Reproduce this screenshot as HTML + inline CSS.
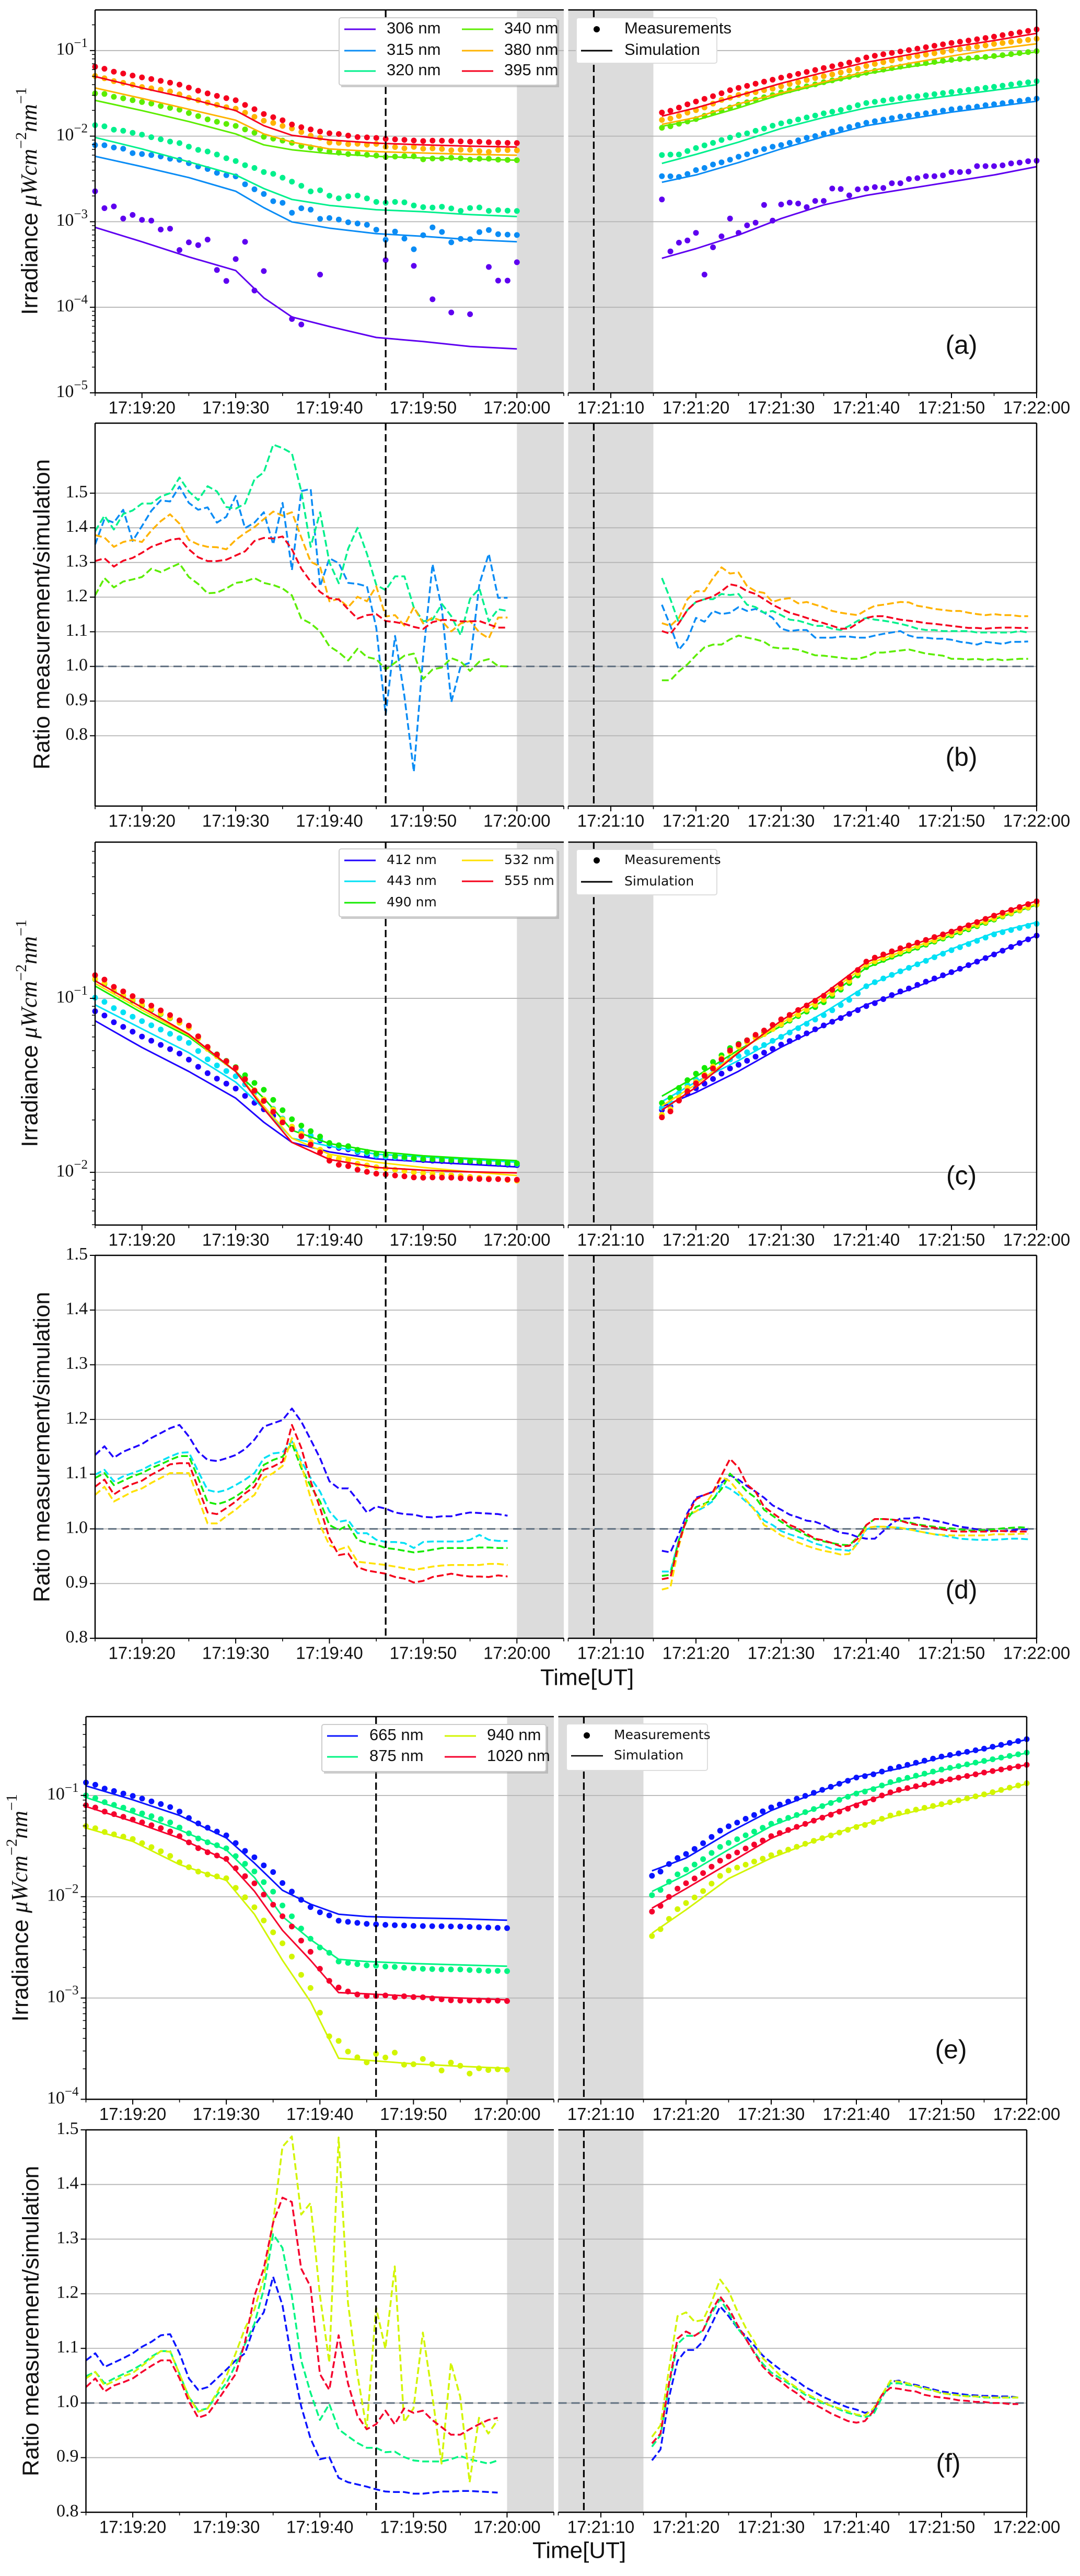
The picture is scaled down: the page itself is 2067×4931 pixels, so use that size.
<!DOCTYPE html>
<html><head><meta charset="utf-8"><title>Irradiance and ratio time series</title>
<style>
html,body{margin:0;padding:0;background:#fff;}
svg{display:block;}
.tk{font-family:"Liberation Sans",sans-serif;font-size:33px;fill:#111;}
.yt{font-family:"Liberation Serif",serif;font-size:34px;fill:#111;}
.lg{font-family:"Liberation Sans",sans-serif;font-size:31px;fill:#111;}
.lg2{font-family:"DejaVu Sans",sans-serif;font-size:25px;fill:#111;}
.yl{font-family:"Liberation Sans",sans-serif;font-size:44px;fill:#111;}
.pl{font-family:"Liberation Sans",sans-serif;font-size:50px;fill:#111;}
</style></head>
<body>
<svg id="chart" xmlns="http://www.w3.org/2000/svg" width="2067" height="4931" viewBox="0 0 2067 4931">
<g id="base"></g>
<g id="over">
  <!-- panel a legends -->
  <g>
    <rect x="653" y="38" width="417" height="129" fill="#999" opacity="0.5"/>
    <rect x="649" y="34" width="417" height="129" rx="4" fill="#fff" stroke="#ccc" stroke-width="2"/>
    <line x1="659" y1="56" x2="719" y2="56" stroke="#5e00f0" stroke-width="3"/>
    <text x="740" y="56" dominant-baseline="middle" class="lg">306 nm</text>
    <line x1="659" y1="97" x2="719" y2="97" stroke="#0a8cf5" stroke-width="3"/>
    <text x="740" y="97" dominant-baseline="middle" class="lg">315 nm</text>
    <line x1="659" y1="136" x2="719" y2="136" stroke="#00f08c" stroke-width="3"/>
    <text x="740" y="136" dominant-baseline="middle" class="lg">320 nm</text>
    <line x1="884" y1="56" x2="944" y2="56" stroke="#5ced00" stroke-width="3"/>
    <text x="965" y="56" dominant-baseline="middle" class="lg">340 nm</text>
    <line x1="884" y1="97" x2="944" y2="97" stroke="#ffb300" stroke-width="3"/>
    <text x="965" y="97" dominant-baseline="middle" class="lg">380 nm</text>
    <line x1="884" y1="136" x2="944" y2="136" stroke="#f5001e" stroke-width="3"/>
    <text x="965" y="136" dominant-baseline="middle" class="lg">395 nm</text>
  </g>
  <g>
    <rect x="1103" y="34" width="269" height="87" rx="4" fill="#fff" stroke="#ddd" stroke-width="2"/>
    <circle cx="1142" cy="56" r="6" fill="#000"/>
    <text x="1195" y="56" dominant-baseline="middle" class="lg">Measurements</text>
    <line x1="1112" y1="97" x2="1172" y2="97" stroke="#000" stroke-width="3"/>
    <text x="1195" y="97" dominant-baseline="middle" class="lg">Simulation</text>
  </g>
  <!-- panel c legends -->
  <g>
    <rect x="653" y="1629" width="417" height="130" fill="#999" opacity="0.5"/>
    <rect x="649" y="1625" width="417" height="130" rx="4" fill="#fff" stroke="#ccc" stroke-width="2"/>
    <line x1="659" y1="1647" x2="719" y2="1647" stroke="#1e00ff" stroke-width="3"/>
    <text x="740" y="1647" dominant-baseline="middle" class="lg2">412 nm</text>
    <line x1="659" y1="1687" x2="719" y2="1687" stroke="#00e1f5" stroke-width="3"/>
    <text x="740" y="1687" dominant-baseline="middle" class="lg2">443 nm</text>
    <line x1="659" y1="1728" x2="719" y2="1728" stroke="#14eb00" stroke-width="3"/>
    <text x="740" y="1728" dominant-baseline="middle" class="lg2">490 nm</text>
    <line x1="884" y1="1647" x2="944" y2="1647" stroke="#ffe100" stroke-width="3"/>
    <text x="965" y="1647" dominant-baseline="middle" class="lg2">532 nm</text>
    <line x1="884" y1="1687" x2="944" y2="1687" stroke="#f50019" stroke-width="3"/>
    <text x="965" y="1687" dominant-baseline="middle" class="lg2">555 nm</text>
  </g>
  <g>
    <rect x="1103" y="1626" width="269" height="87" rx="4" fill="#fff" stroke="#ddd" stroke-width="2"/>
    <circle cx="1142" cy="1647" r="6" fill="#000"/>
    <text x="1195" y="1647" dominant-baseline="middle" class="lg2">Measurements</text>
    <line x1="1112" y1="1688" x2="1172" y2="1688" stroke="#000" stroke-width="3"/>
    <text x="1195" y="1688" dominant-baseline="middle" class="lg2">Simulation</text>
  </g>
  <!-- panel e legends -->
  <g>
    <rect x="620" y="3305" width="429" height="90" fill="#999" opacity="0.5"/>
    <rect x="616" y="3301" width="429" height="90" rx="4" fill="#fff" stroke="#ccc" stroke-width="2"/>
    <line x1="626" y1="3323" x2="685" y2="3323" stroke="#0a14ff" stroke-width="3"/>
    <text x="707" y="3323" dominant-baseline="middle" class="lg">665 nm</text>
    <line x1="626" y1="3363" x2="685" y2="3363" stroke="#00f582" stroke-width="3"/>
    <text x="707" y="3363" dominant-baseline="middle" class="lg">875 nm</text>
    <line x1="851" y1="3323" x2="911" y2="3323" stroke="#d2f500" stroke-width="3"/>
    <text x="932" y="3323" dominant-baseline="middle" class="lg">940 nm</text>
    <line x1="851" y1="3363" x2="911" y2="3363" stroke="#f5002d" stroke-width="3"/>
    <text x="932" y="3363" dominant-baseline="middle" class="lg">1020 nm</text>
  </g>
  <g>
    <rect x="1084" y="3300" width="270" height="89" rx="4" fill="#fff" stroke="#ddd" stroke-width="2"/>
    <circle cx="1123" cy="3322" r="6" fill="#000"/>
    <text x="1175" y="3322" dominant-baseline="middle" class="lg2">Measurements</text>
    <line x1="1093" y1="3361" x2="1154" y2="3361" stroke="#000" stroke-width="2.5"/>
    <text x="1175" y="3361" dominant-baseline="middle" class="lg2">Simulation</text>
  </g>
  <!-- panel letters -->
  <text x="1840" y="664" text-anchor="middle" dominant-baseline="middle" class="pl">(a)</text>
  <text x="1840" y="1453" text-anchor="middle" dominant-baseline="middle" class="pl">(b)</text>
  <text x="1840" y="2254" text-anchor="middle" dominant-baseline="middle" class="pl">(c)</text>
  <text x="1840" y="3047" text-anchor="middle" dominant-baseline="middle" class="pl">(d)</text>
  <text x="1820" y="3927" text-anchor="middle" dominant-baseline="middle" class="pl">(e)</text>
  <text x="1815" y="4719" text-anchor="middle" dominant-baseline="middle" class="pl">(f)</text>
  <!-- x axis titles -->
  <text x="1034" y="3214" dominant-baseline="middle" class="yl">Time[UT]</text>
  <text x="1019" y="4885" dominant-baseline="middle" class="yl">Time[UT]</text>
  <!-- y axis titles -->
  <text transform="translate(60,385) rotate(-90)" text-anchor="middle" dominant-baseline="middle" class="yl">Irradiance <tspan font-family="Liberation Serif, serif" font-style="italic">μWcm</tspan><tspan dy="-17" font-size="30" font-family="Liberation Serif, serif">−2</tspan><tspan dy="17" font-family="Liberation Serif, serif" font-style="italic">nm</tspan><tspan dy="-17" font-size="30" font-family="Liberation Serif, serif">−1</tspan></text>
  <text transform="translate(83,1176) rotate(-90)" text-anchor="middle" dominant-baseline="middle" class="yl">Ratio measurement/simulation</text>
  <text transform="translate(60,1978) rotate(-90)" text-anchor="middle" dominant-baseline="middle" class="yl">Irradiance <tspan font-family="Liberation Serif, serif" font-style="italic">μWcm</tspan><tspan dy="-17" font-size="30" font-family="Liberation Serif, serif">−2</tspan><tspan dy="17" font-family="Liberation Serif, serif" font-style="italic">nm</tspan><tspan dy="-17" font-size="30" font-family="Liberation Serif, serif">−1</tspan></text>
  <text transform="translate(83,2770) rotate(-90)" text-anchor="middle" dominant-baseline="middle" class="yl">Ratio measurement/simulation</text>
  <text transform="translate(42,3652) rotate(-90)" text-anchor="middle" dominant-baseline="middle" class="yl">Irradiance <tspan font-family="Liberation Serif, serif" font-style="italic">μWcm</tspan><tspan dy="-17" font-size="30" font-family="Liberation Serif, serif">−2</tspan><tspan dy="17" font-family="Liberation Serif, serif" font-style="italic">nm</tspan><tspan dy="-17" font-size="30" font-family="Liberation Serif, serif">−1</tspan></text>
  <text transform="translate(62,4443) rotate(-90)" text-anchor="middle" dominant-baseline="middle" class="yl">Ratio measurement/simulation</text>
</g>
</svg>
<script>
// ---------- DATA ----------
const tSimL=[15,20,25,30,33,36,40,45,50,55,60];
const tSimR=[136,140,145,150,155,160,165,170,175,180];
const tSimLe=[15,20,25,30,33,36,39,42,45,50,55,60];
const tStartL=15, tEndL=60, tStartR=136, tEndR=180;
const tickLabelsL=["17:19:20","17:19:30","17:19:40","17:19:50","17:20:00"];
const tickLabelsR=["17:21:10","17:21:20","17:21:30","17:21:40","17:21:50","17:22:00"];
const ratioTicks=[0.8,0.9,1.0,1.1,1.2,1.3,1.4,1.5];
const ratioTickLabels=["0.8","0.9","1.0","1.1","1.2","1.3","1.4","1.5"];

const a395L=[0.0497,0.0366,0.0276,0.0199,0.01324,0.01023,0.00903,0.00828,0.00791,0.00763,0.00747];
const a380L=[0.0366,0.0276,0.0206,0.01535,0.01062,0.00851,0.00709,0.00659,0.00635,0.00612,0.00599];
const a340L=[0.0262,0.0199,0.0148,0.01062,0.00791,0.00693,0.00625,0.00581,0.00556,0.0054,0.00524];
const a320L=[0.00966,0.00709,0.00501,0.00352,0.00244,0.00182,0.00155,0.00138,0.00131,0.00121,0.00115];
const a315L=[0.00581,0.0044,0.00328,0.00227,0.00146,0.000995,0.000841,0.000726,0.000675,0.000618,0.000583];
const a306L=[0.000859,0.000583,0.000388,0.000269,0.000129,0.000077,0.0000596,0.0000444,0.0000398,0.0000348,0.0000326];
const a395R=[0.01714,0.02138,0.02974,0.0414,0.05556,0.0729,0.0895,0.11,0.131,0.159];
const a380R=[0.01374,0.01652,0.02384,0.032,0.0429,0.0568,0.0708,0.0863,0.1038,0.12];
const a340R=[0.01305,0.01535,0.02138,0.0308,0.0414,0.0536,0.0643,0.0762,0.0845,0.0964];
const a320R=[0.0048,0.00612,0.00851,0.0123,0.01652,0.02138,0.02565,0.02974,0.0344,0.0399];
const a315R=[0.00289,0.00352,0.00491,0.0071,0.00987,0.01324,0.0159,0.0191,0.0221,0.0256];
const a306R=[0.000374,0.000484,0.0007,0.00109,0.00157,0.00203,0.00244,0.00293,0.00352,0.0044];
const m306L=[2.27e-3,1.44e-3,1.51e-3,1.09e-3,1.2e-3,1.05e-3,1.03e-3,8.1e-4,8.3e-4,4.67e-4,5.74e-4,5.33e-4,6.18e-4,2.73e-4,2.03e-4,3.66e-4,5.82e-4,1.57e-4,2.65e-4,null,null,7.3e-5,6.3e-5,null,2.41e-4,null,null,null,null,null,null,3.56e-4,null,null,3.05e-4,null,1.24e-4,null,8.7e-5,null,8.3e-5,null,2.96e-4,2.05e-4,2.05e-4,3.36e-4];
const m306R=[1.82e-3,4.5e-4,5.69e-4,6.04e-4,7.41e-4,2.41e-4,5.02e-4,6.75e-4,1.09e-3,7.41e-4,9.06e-4,9.74e-4,1.57e-3,1.03e-3,1.59e-3,1.67e-3,1.63e-3,1.48e-3,1.75e-3,1.75e-3,2.44e-3,2.41e-3,2.03e-3,2.39e-3,2.44e-3,2.54e-3,2.48e-3,2.82e-3,2.82e-3,3.16e-3,3.23e-3,3.4e-3,3.4e-3,3.48e-3,3.8e-3,3.8e-3,3.85e-3,4.46e-3,4.46e-3,4.46e-3,4.56e-3,4.8e-3,4.91e-3,5.09e-3,5.16e-3];

const b315L=[1.352,1.425,1.415,1.452,1.362,1.405,1.449,1.479,1.476,1.519,1.472,1.452,1.459,1.415,1.432,1.492,1.399,1.415,1.445,1.352,1.472,1.278,1.506,1.512,1.231,1.312,1.298,1.241,1.238,1.231,1.111,0.86,1.088,0.914,0.696,1.031,1.295,1.165,0.897,1.001,1.011,1.238,1.325,1.198,1.198];
const b320L=[1.39,1.435,1.395,1.44,1.45,1.47,1.47,1.49,1.5,1.545,1.505,1.48,1.52,1.505,1.46,1.455,1.47,1.54,1.56,1.64,1.63,1.615,1.505,1.345,1.445,1.3,1.24,1.34,1.4,1.325,1.235,1.22,1.26,1.26,1.17,1.13,1.135,1.18,1.145,1.09,1.195,1.225,1.13,1.165,1.16];
const b340L=[1.205,1.255,1.228,1.245,1.251,1.258,1.282,1.272,1.285,1.297,1.258,1.238,1.211,1.213,1.225,1.241,1.245,1.255,1.241,1.235,1.225,1.205,1.138,1.124,1.101,1.058,1.041,1.017,1.051,1.027,1.021,0.991,1.011,1.031,1.037,0.964,0.991,0.997,1.024,1.014,0.987,1.014,1.021,1.001,1.0];
const b380L=[1.379,1.372,1.345,1.359,1.365,1.359,1.392,1.419,1.439,1.412,1.365,1.352,1.345,1.344,1.338,1.365,1.385,1.402,1.425,1.447,1.435,1.445,1.372,1.302,1.288,1.188,1.195,1.171,1.201,1.188,1.231,1.144,1.148,1.118,1.171,1.124,1.141,1.131,1.101,1.124,1.131,1.098,1.081,1.141,1.141];
const b395L=[1.304,1.312,1.288,1.305,1.313,1.328,1.345,1.355,1.365,1.369,1.338,1.315,1.304,1.304,1.308,1.32,1.332,1.362,1.371,1.369,1.375,1.338,1.282,1.245,1.215,1.197,1.193,1.165,1.138,1.148,1.151,1.131,1.128,1.123,1.114,1.108,1.128,1.134,1.134,1.13,1.13,1.131,1.121,1.112,1.112];
const b315R=[1.178,1.117,1.048,1.078,1.14,1.129,1.16,1.151,1.155,1.171,1.16,1.166,1.155,1.14,1.109,1.102,1.105,1.105,1.083,1.083,1.083,1.086,1.086,1.083,1.083,1.089,1.094,1.098,1.102,1.089,1.083,1.083,1.08,1.08,1.077,1.071,1.068,1.063,1.071,1.068,1.065,1.071,1.071,1.072];
const b320R=[1.255,1.194,1.125,1.163,1.186,1.194,1.194,1.209,1.206,1.209,1.178,1.171,1.155,1.16,1.148,1.135,1.132,1.125,1.117,1.117,1.109,1.105,1.117,1.132,1.14,1.135,1.132,1.128,1.123,1.117,1.109,1.105,1.105,1.102,1.102,1.102,1.102,1.098,1.098,1.098,1.098,1.098,1.102,1.098];
const b340R=[0.96,0.96,0.986,1.006,1.032,1.055,1.063,1.063,1.078,1.089,1.083,1.078,1.071,1.055,1.052,1.052,1.048,1.04,1.032,1.031,1.028,1.025,1.022,1.022,1.028,1.04,1.04,1.043,1.046,1.049,1.043,1.037,1.034,1.031,1.022,1.022,1.02,1.022,1.018,1.022,1.018,1.02,1.022,1.022];
const b380R=[1.125,1.117,1.14,1.194,1.217,1.217,1.255,1.286,1.268,1.271,1.232,1.217,1.212,1.186,1.194,1.197,1.182,1.186,1.178,1.171,1.16,1.155,1.151,1.148,1.163,1.175,1.178,1.182,1.186,1.185,1.175,1.171,1.166,1.163,1.16,1.16,1.155,1.151,1.148,1.151,1.148,1.148,1.145,1.145];
const b395R=[1.102,1.094,1.125,1.163,1.186,1.194,1.202,1.217,1.237,1.232,1.217,1.209,1.194,1.178,1.166,1.155,1.148,1.14,1.132,1.125,1.117,1.109,1.109,1.125,1.14,1.145,1.145,1.14,1.135,1.132,1.129,1.125,1.123,1.12,1.117,1.114,1.111,1.111,1.109,1.111,1.112,1.112,1.111,1.111];

const c412L=[0.0743,0.0522,0.038,0.0267,0.0194,0.01486,0.0131,0.01194,0.01151,0.01111,0.01074];
const c443L=[0.0918,0.0668,0.0487,0.033,0.0232,0.01571,0.01413,0.01271,0.01227,0.01186,0.01143];
const c490L=[0.1178,0.0826,0.0601,0.038,0.0267,0.01746,0.01465,0.01318,0.01245,0.01202,0.01167];
const c532L=[0.1219,0.0857,0.0614,0.038,0.024,0.01571,0.01271,0.01143,0.01067,0.01007,0.00959];
const c555L=[0.1262,0.0887,0.0622,0.038,0.0232,0.01486,0.01186,0.01067,0.01029,0.01007,0.00993];
const c412R=[0.0238,0.0288,0.0381,0.0524,0.0694,0.0919,0.1119,0.1403,0.1795,0.2296];
const c443R=[0.0255,0.0331,0.0439,0.0603,0.0827,0.1175,0.15,0.192,0.238,0.2735];
const c490R=[0.0274,0.0355,0.0505,0.0694,0.0972,0.15,0.186,0.2296,0.2838,0.345];
const c532R=[0.0241,0.032,0.0494,0.0718,0.1021,0.156,0.192,0.236,0.29,0.35];
const c555R=[0.0228,0.0308,0.0488,0.0744,0.1057,0.1614,0.1995,0.2428,0.3,0.363];

const d412L=[1.135,1.151,1.13,1.141,1.148,1.155,1.166,1.175,1.184,1.19,1.169,1.141,1.126,1.124,1.129,1.135,1.146,1.163,1.187,1.193,1.199,1.22,1.196,1.163,1.129,1.087,1.074,1.074,1.053,1.03,1.041,1.037,1.03,1.027,1.026,1.022,1.021,1.023,1.023,1.027,1.03,1.029,1.028,1.027,1.024];
const d443L=[1.099,1.108,1.087,1.096,1.102,1.108,1.117,1.124,1.132,1.139,1.14,1.105,1.071,1.067,1.071,1.08,1.09,1.102,1.129,1.138,1.14,1.16,1.124,1.093,1.068,1.032,1.013,1.016,0.992,0.992,0.98,0.976,0.976,0.974,0.965,0.976,0.977,0.977,0.977,0.977,0.98,0.989,0.98,0.978,0.978];
const d490L=[1.093,1.102,1.08,1.088,1.096,1.102,1.111,1.118,1.126,1.133,1.133,1.093,1.049,1.045,1.05,1.059,1.071,1.087,1.117,1.126,1.132,1.156,1.111,1.078,1.05,1.007,0.998,1.007,0.98,0.974,0.971,0.965,0.963,0.96,0.957,0.959,0.962,0.965,0.965,0.965,0.965,0.966,0.966,0.965,0.965];
const d532L=[1.062,1.077,1.05,1.059,1.068,1.074,1.084,1.093,1.102,1.102,1.102,1.056,1.01,1.01,1.023,1.035,1.05,1.062,1.093,1.102,1.115,1.166,1.117,1.056,1.007,0.97,0.962,0.968,0.94,0.938,0.936,0.934,0.931,0.928,0.925,0.928,0.931,0.933,0.934,0.934,0.934,0.934,0.936,0.936,0.934];
const d555L=[1.077,1.09,1.063,1.074,1.082,1.088,1.099,1.108,1.118,1.12,1.12,1.074,1.03,1.027,1.038,1.05,1.065,1.077,1.108,1.114,1.123,1.19,1.148,1.087,1.038,0.983,0.952,0.955,0.93,0.924,0.921,0.918,0.912,0.909,0.902,0.905,0.912,0.915,0.918,0.915,0.913,0.913,0.912,0.915,0.913];
const d412R=[0.96,0.957,0.991,1.029,1.057,1.062,1.068,1.084,1.098,1.09,1.078,1.068,1.057,1.043,1.035,1.026,1.021,1.015,1.013,1.007,0.999,0.993,0.991,0.985,0.982,0.982,0.996,1.01,1.019,1.019,1.021,1.018,1.015,1.012,1.008,1.004,1.002,0.999,0.997,0.996,0.996,0.997,0.999,0.999];
const d443R=[0.922,0.922,0.98,1.024,1.032,1.04,1.051,1.081,1.073,1.062,1.048,1.035,1.015,1.007,0.996,0.99,0.985,0.98,0.973,0.969,0.963,0.962,0.96,0.974,0.999,1.004,1.004,1.003,1.002,0.999,0.996,0.993,0.99,0.988,0.985,0.982,0.981,0.98,0.98,0.98,0.981,0.982,0.982,0.981];
const d490R=[0.914,0.916,0.98,1.018,1.04,1.046,1.054,1.073,1.101,1.085,1.068,1.057,1.035,1.024,1.013,1.003,0.996,0.988,0.981,0.977,0.974,0.971,0.97,0.985,1.007,1.018,1.018,1.017,1.015,1.012,1.008,1.006,1.004,1.002,1.001,0.999,0.997,0.997,0.998,0.999,1.001,1.002,1.003,1.002];
const d532R=[0.889,0.893,0.969,1.026,1.032,1.043,1.065,1.095,1.087,1.068,1.051,1.032,1.007,0.999,0.988,0.982,0.975,0.969,0.964,0.96,0.957,0.953,0.954,0.974,1.002,1.004,1.004,1.003,1.002,0.999,0.996,0.993,0.99,0.989,0.988,0.988,0.988,0.988,0.988,0.99,0.99,0.99,0.991,0.991];
const d555R=[0.908,0.911,0.974,1.024,1.054,1.062,1.068,1.098,1.128,1.112,1.081,1.068,1.04,1.029,1.018,1.007,1.001,0.991,0.982,0.979,0.974,0.968,0.969,0.982,1.007,1.018,1.018,1.017,1.015,1.01,1.007,1.004,1.002,0.999,0.996,0.995,0.995,0.995,0.995,0.996,0.996,0.995,0.995,0.995];

const e665L=[0.1245,0.0906,0.0635,0.038,0.0215,0.01158,0.00845,0.00672,0.00638,0.00618,0.00605,0.00586];
const e875L=[0.0955,0.067,0.0458,0.029,0.0155,0.00638,0.00378,0.00241,0.00229,0.00219,0.00212,0.00206];
const e940L=[0.0477,0.0352,0.0208,0.0145,0.00672,0.00236,0.00092,0.000254,0.000243,0.000224,0.000212,0.000202];
const e1020L=[0.0778,0.0553,0.0379,0.023,0.01134,0.00466,0.00236,0.00113,0.0011,0.00104,0.001,0.00096];
const e665R=[0.018,0.0241,0.0428,0.071,0.104,0.152,0.184,0.237,0.286,0.356];
const e875R=[0.01127,0.01652,0.0292,0.0498,0.0728,0.1066,0.1374,0.177,0.217,0.262];
const e940R=[0.00436,0.00743,0.0151,0.0241,0.0353,0.0498,0.0641,0.0805,0.1014,0.1306];
const e1020R=[0.0077,0.01202,0.0213,0.0377,0.0565,0.0826,0.1107,0.1374,0.168,0.201];

const f665L=[1.078,1.091,1.066,1.074,1.082,1.091,1.103,1.112,1.124,1.126,1.091,1.045,1.024,1.029,1.045,1.061,1.078,1.091,1.141,1.166,1.231,1.179,1.078,0.994,0.935,0.897,0.901,0.863,0.855,0.851,0.847,0.842,0.838,0.837,0.837,0.834,0.834,0.836,0.838,0.838,0.839,0.839,0.838,0.837,0.836];
const f875L=[1.049,1.057,1.036,1.045,1.053,1.061,1.071,1.085,1.095,1.095,1.053,1.011,0.986,0.99,1.015,1.036,1.07,1.108,1.145,1.208,1.309,1.284,1.196,1.078,1.019,0.969,0.998,0.952,0.939,0.927,0.918,0.918,0.91,0.911,0.901,0.895,0.893,0.893,0.893,0.897,0.903,0.897,0.893,0.889,0.895];
const f940L=[1.045,1.057,1.032,1.04,1.049,1.055,1.068,1.082,1.095,1.094,1.053,1.011,0.984,0.99,1.019,1.049,1.091,1.137,1.171,1.229,1.33,1.469,1.488,1.345,1.366,1.197,1.074,1.486,1.183,1.053,0.952,1.175,1.099,1.25,0.965,0.99,1.129,1.015,0.889,1.074,1.011,0.855,0.973,0.944,0.969];
const f1020L=[1.029,1.045,1.021,1.032,1.038,1.045,1.057,1.068,1.078,1.078,1.045,1.003,0.973,0.979,1.003,1.028,1.053,1.112,1.196,1.246,1.33,1.376,1.368,1.246,1.213,1.053,1.024,1.124,1.036,0.977,0.952,0.961,0.986,0.961,0.99,0.982,0.986,0.969,0.956,0.942,0.942,0.952,0.961,0.969,0.973];
const f665R=[0.895,0.915,1.01,1.077,1.097,1.097,1.113,1.144,1.177,1.159,1.138,1.123,1.105,1.087,1.074,1.062,1.051,1.041,1.029,1.021,1.012,1.005,0.998,0.992,0.988,0.982,0.985,1.01,1.039,1.041,1.036,1.033,1.029,1.025,1.021,1.019,1.017,1.015,1.014,1.013,1.013,1.012,1.012,1.01];
const f875R=[0.92,0.941,1.031,1.108,1.123,1.123,1.133,1.164,1.19,1.166,1.138,1.118,1.094,1.072,1.056,1.046,1.036,1.026,1.015,1.008,1.0,0.995,0.988,0.982,0.978,0.974,0.979,1.01,1.036,1.036,1.033,1.031,1.026,1.023,1.018,1.016,1.014,1.013,1.012,1.01,1.01,1.01,1.01,1.01];
const f940R=[0.938,0.959,1.062,1.159,1.166,1.149,1.152,1.185,1.226,1.205,1.169,1.138,1.113,1.082,1.067,1.051,1.039,1.028,1.018,1.01,1.002,0.995,0.99,0.985,0.979,0.977,0.99,1.015,1.041,1.039,1.036,1.031,1.027,1.023,1.018,1.016,1.014,1.012,1.012,1.011,1.01,1.01,1.01,1.01];
const f1020R=[0.926,0.944,1.036,1.118,1.131,1.123,1.133,1.169,1.195,1.174,1.144,1.118,1.092,1.067,1.051,1.041,1.028,1.018,1.005,0.998,0.99,0.981,0.974,0.967,0.964,0.967,0.985,1.015,1.028,1.026,1.023,1.021,1.015,1.012,1.01,1.008,1.005,1.004,1.002,1.002,1.0,1.0,0.998,0.998];

// ---------- RENDERING ----------
const NS='http://www.w3.org/2000/svg';
const base=document.getElementById('base');
const AXAB={L:{x0:182,x1:1079,t0:15,t1:65},R:{x0:1087.5,x1:1984,t0:125,t1:180}};
const AXEF={L:{x0:164.5,x1:1060,t0:15,t1:65},R:{x0:1068.5,x1:1965,t0:125,t1:180}};
const P={
 a:{top:19,bot:752,log:true,vTop:-0.525,vBot:-5,ax:AXAB},
 b:{top:810,bot:1543,log:false,vTop:1.702,vBot:0.597,ax:AXAB},
 c:{top:1612,bot:2345,log:true,vTop:-0.102,vBot:-2.303,ax:AXAB},
 d:{top:2403,bot:3136,log:false,vTop:1.5,vBot:0.8,ax:AXAB},
 e:{top:3286,bot:4018.5,log:true,vTop:-0.222,vBot:-4,ax:AXEF},
 f:{top:4077,bot:4809,log:false,vTop:1.5,vBot:0.8,ax:AXEF}
};
function xOf(ax,t){return ax.x0+(t-ax.t0)*(ax.x1-ax.x0)/(ax.t1-ax.t0);}
function yOf(p,v){const u=p.log?Math.log10(v):v;return p.top+(p.vTop-u)*(p.bot-p.top)/(p.vTop-p.vBot);}
function mk(tag,parent,name){
  const e=document.createElementNS(NS,tag);
  
  
  parent.appendChild(e);return e;
}
function ln(g,x1,y1,x2,y2,stroke,w,dash,name){
  const e=mk('line',g,name);
  e.setAttribute('x1',x1);e.setAttribute('y1',y1);e.setAttribute('x2',x2);e.setAttribute('y2',y2);
  e.setAttribute('stroke',stroke);e.setAttribute('stroke-width',w);
  if(dash)e.setAttribute('stroke-dasharray',dash);
  return e;
}
function txt(g,x,y,s,cls,anchor,name){
  const e=mk('text',g,name);
  e.setAttribute('x',x);e.setAttribute('y',y);e.setAttribute('class',cls);
  e.setAttribute('text-anchor',anchor);e.setAttribute('dominant-baseline','middle');
  e.textContent=s;return e;
}
function simAt(ts,vs,t){
  if(t<=ts[0])return vs[0];
  for(let i=1;i<ts.length;i++){if(t<=ts[i]){const f=(t-ts[i-1])/(ts[i]-ts[i-1]);return Math.pow(10,Math.log10(vs[i-1])+f*(Math.log10(vs[i])-Math.log10(vs[i-1])));}}
  return vs[vs.length-1];
}
function polyline(g,p,ax,ts,vs,color,w,dash,name){
  let d='',pen=false;
  for(let i=0;i<vs.length;i++){
    if(vs[i]===null||vs[i]===undefined){pen=false;continue;}
    const x=xOf(ax,ts[i]).toFixed(1),y=yOf(p,vs[i]).toFixed(1);
    d+=(pen?'L':'M')+x+','+y;pen=true;
  }
  const e=mk('path',g,name);
  e.setAttribute('d',d);e.setAttribute('fill','none');e.setAttribute('stroke',color);
  e.setAttribute('stroke-width',w);e.setAttribute('stroke-linejoin','round');
  if(dash)e.setAttribute('stroke-dasharray',dash);
}
function dots(g,p,ax,ts,vs,color,name){
  const gg=mk('g',g,name);
  for(let i=0;i<vs.length;i++){
    if(vs[i]===null)continue;
    const c=document.createElementNS(NS,'circle');
    
    
    c.setAttribute('cx',xOf(ax,ts[i]).toFixed(1));c.setAttribute('cy',yOf(p,vs[i]).toFixed(1));
    c.setAttribute('r',5.5);c.setAttribute('fill',color);gg.appendChild(c);
  }
}
function range(a,b){const r=[];for(let t=a;t<=b;t++)r.push(t);return r;}

function frame(key){
  const p=P[key];const g=mk('g',base,'panel-'+key);
  const gBack=mk('g',g,'panel-background');
  const gData=mk('g',g,'series-group');
  const gFront=mk('g',g,'axes-frame');
  ['L','R'].forEach(s=>{
    const ax=p.ax[s];
    const t0=s==='L'?60:125,t1=s==='L'?65:135;
    const r=mk('rect',gBack,'unavailable-span');
    r.setAttribute('x',xOf(ax,t0));r.setAttribute('y',p.top);
    r.setAttribute('width',xOf(ax,t1)-xOf(ax,t0));r.setAttribute('height',p.bot-p.top);r.setAttribute('fill','#dcdcdc');
    if(p.log){for(let e=Math.ceil(p.vBot);e<=Math.floor(p.vTop);e++){const y=yOf(p,Math.pow(10,e));ln(gBack,ax.x0,y,ax.x1,y,'#b4b4b4',1.8,null,'gridline');}}
    else{ratioTicks.forEach(v=>{if(v<=p.vTop&&v>=p.vBot){const y=yOf(p,v);ln(gBack,ax.x0,y,ax.x1,y,'#b4b4b4',1.8,null,'gridline');}});
      const y1=yOf(p,1.0);ln(gBack,ax.x0,y1,ax.x1,y1,'#607080',3,'16,9','reference-line-1');}
    const te=s==='L'?46:128;const xe=xOf(ax,te);
    ln(gFront,xe,p.top,xe,p.bot,'#000',3.2,'14,7','event-line');
    ln(gFront,ax.x0,p.top,ax.x1,p.top,'#000',2.5,null,'top-spine');
    ln(gFront,ax.x0,p.bot,ax.x1,p.bot,'#000',2.5,null,'bottom-spine');
    if(s==='L')ln(gFront,ax.x0,p.top,ax.x0,p.bot,'#000',2.5,null,'left-spine');
    else ln(gFront,ax.x1,p.top,ax.x1,p.bot,'#000',2.5,null,'right-spine');
    const labs=s==='L'?tickLabelsL:tickLabelsR;
    const first=s==='L'?20:130;
    labs.forEach((lab,i)=>{const x=xOf(ax,first+10*i);ln(gFront,x,p.bot,x,p.bot+10,'#000',2,null,'x-tick');
      txt(gFront,x,p.bot+31,lab,'tk','middle','x-tick-label');});
    for(let t=ax.t0;t<=ax.t1;t+=5){if(t%10===5){const x=xOf(ax,t);ln(gFront,x,p.bot,x,p.bot+6,'#000',1.6,null,'x-minor-tick');}}
  });
  const axL=p.ax.L;
  if(p.log){
    for(let e=Math.floor(p.vBot);e<=Math.ceil(p.vTop);e++){
      for(let k=1;k<10;k++){const v=k*Math.pow(10,e);const u=Math.log10(v);if(u<p.vBot-1e-9||u>p.vTop)continue;
        const y=yOf(p,v);ln(gFront,axL.x0-(k===1?10:6),y,axL.x0,y,'#000',k===1?2:1.5,null,k===1?'y-tick':'y-minor-tick');
        if(k===1){const t=txt(gFront,axL.x0-14,y,'10','yt','end','y-tick-label');
          const sp=document.createElementNS(NS,'tspan');sp.setAttribute('dy','-13');sp.setAttribute('font-size','25');sp.textContent='−'+(-e);t.appendChild(sp);}}
    }
  } else {
    ratioTicks.forEach((v,i)=>{if(v>p.vTop||v<p.vBot)return;const y=yOf(p,v);
      ln(gFront,axL.x0-10,y,axL.x0,y,'#000',2,null,'y-tick');
      txt(gFront,axL.x0-14,y,ratioTickLabels[i],'yt','end','y-tick-label');});
  }
  return gData;
}

const tdL=range(tStartL,tEndL), tdR=range(tStartR,tEndR);
function ratioTimes(arr,start){return arr.map((_,i)=>start+i);}
function measured(tsK,sim,ratio,td){return td.map((t,i)=>simAt(tsK,sim,t)*ratio[Math.min(i,ratio.length-1)]);}

function irradPanel(key,tk,series){
  const g=frame(key);const p=P[key];
  series.forEach(s=>{
    polyline(g,p,p.ax.L,tk,s.simL,s.color,3,null,'simulation-'+s.id+'-left');
    polyline(g,p,p.ax.R,tSimR,s.simR,s.color,3,null,'simulation-'+s.id+'-right');
    const mL=s.mL||measured(tk,s.simL,s.rL,tdL);
    const mR=s.mR||measured(tSimR,s.simR,s.rR,tdR);
    dots(g,p,p.ax.L,tdL,mL,s.color,'measurements-'+s.id+'-left');
    dots(g,p,p.ax.R,tdR,mR,s.color,'measurements-'+s.id+'-right');
  });
}
function ratioPanel(key,series){
  const g=frame(key);const p=P[key];
  series.forEach(s=>{
    polyline(g,p,p.ax.L,ratioTimes(s.rL,tStartL),s.rL,s.color,3.5,'13,6','ratio-'+s.id+'-left');
    polyline(g,p,p.ax.R,ratioTimes(s.rR,tStartR),s.rR,s.color,3.5,'13,6','ratio-'+s.id+'-right');
  });
}

const SA=[
 {id:'306nm',color:'#5e00f0',simL:a306L,simR:a306R,mL:m306L,mR:m306R},
 {id:'315nm',color:'#0a8cf5',simL:a315L,simR:a315R,rL:b315L,rR:b315R},
 {id:'320nm',color:'#00f08c',simL:a320L,simR:a320R,rL:b320L,rR:b320R},
 {id:'340nm',color:'#5ced00',simL:a340L,simR:a340R,rL:b340L,rR:b340R},
 {id:'380nm',color:'#ffb300',simL:a380L,simR:a380R,rL:b380L,rR:b380R},
 {id:'395nm',color:'#f5001e',simL:a395L,simR:a395R,rL:b395L,rR:b395R}];
irradPanel('a',tSimL,SA);
ratioPanel('b',SA.slice(1));
const SC=[
 {id:'412nm',color:'#1e00ff',simL:c412L,simR:c412R,rL:d412L,rR:d412R},
 {id:'443nm',color:'#00e1f5',simL:c443L,simR:c443R,rL:d443L,rR:d443R},
 {id:'490nm',color:'#14eb00',simL:c490L,simR:c490R,rL:d490L,rR:d490R},
 {id:'532nm',color:'#ffe100',simL:c532L,simR:c532R,rL:d532L,rR:d532R},
 {id:'555nm',color:'#f50019',simL:c555L,simR:c555R,rL:d555L,rR:d555R}];
irradPanel('c',tSimL,SC);
ratioPanel('d',SC);
const SE=[
 {id:'665nm',color:'#0a14ff',simL:e665L,simR:e665R,rL:f665L,rR:f665R},
 {id:'875nm',color:'#00f582',simL:e875L,simR:e875R,rL:f875L,rR:f875R},
 {id:'940nm',color:'#d2f500',simL:e940L,simR:e940R,rL:f940L,rR:f940R},
 {id:'1020nm',color:'#f5002d',simL:e1020L,simR:e1020R,rL:f1020L,rR:f1020R}];
irradPanel('e',tSimLe,SE);
ratioPanel('f',SE);
</script>
</body></html>
